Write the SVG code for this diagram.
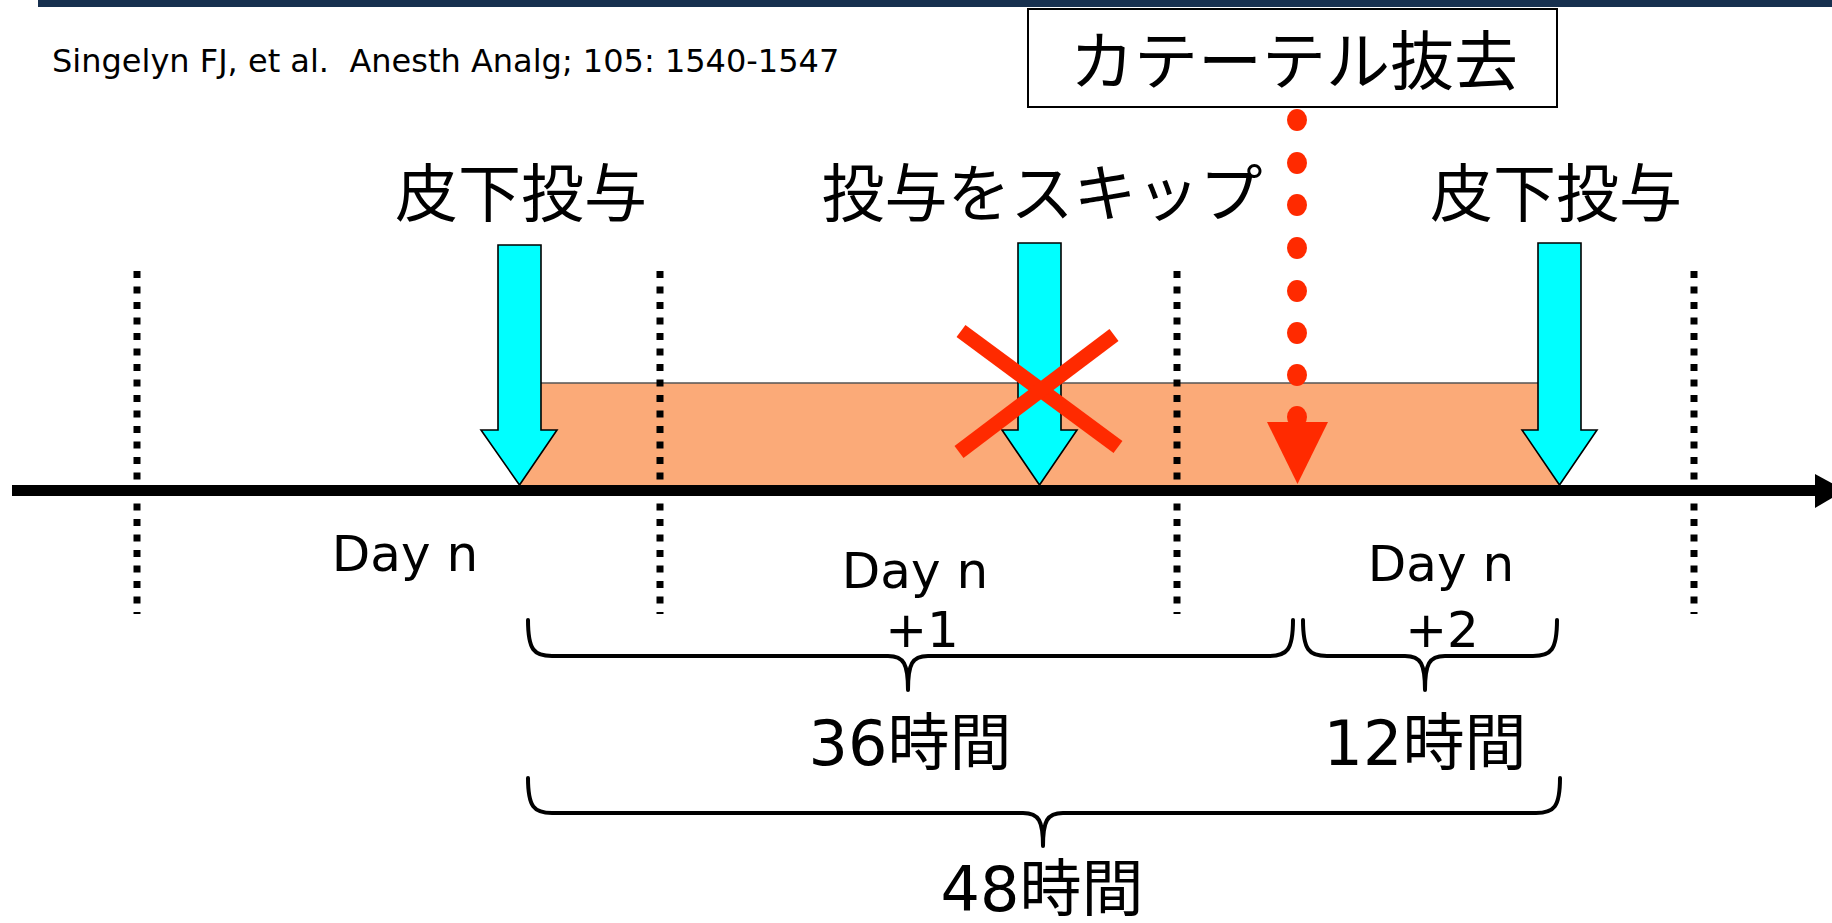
<svg xmlns="http://www.w3.org/2000/svg" width="1832" height="923" viewBox="0 0 1832 923">
  <style>
    .lat { font-family: "DejaVu Sans", "Noto Sans CJK JP", sans-serif; fill: #000; }
    .jp { font-family: "Noto Sans CJK JP", "DejaVu Sans", sans-serif; fill: #000; }
    .dose { fill: #00FFFF; stroke: #000; stroke-width: 1.6; stroke-linejoin: miter; }
    .day { stroke: #000; stroke-width: 7; stroke-dasharray: 7 8.5; }
    .brace { fill: none; stroke: #000; stroke-width: 4; stroke-linecap: round; }
    .cross { stroke: #FF2A00; stroke-width: 15; }
    .rdot { fill: #FF2A00; }
  </style>
  <rect width="1832" height="923" fill="#FFFFFF"/>

  <g id="header">
    <rect x="38" y="0" width="1794" height="7" fill="#17304F"/>
    <text class="lat" x="52" y="72" font-size="32" xml:space="preserve">Singelyn FJ, et al.  Anesth Analg; 105: 1540-1547</text>
  </g>

  <g id="effect-period">
    <rect x="519" y="383" width="1040" height="102" fill="#FBAA78"/>
    <line x1="519" y1="383" x2="1559" y2="383" stroke="#555" stroke-width="1.6"/>
  </g>

  <g id="day-dividers">
    <line class="day" x1="137" y1="271" x2="137" y2="614"/>
    <line class="day" x1="660" y1="271" x2="660" y2="614"/>
    <line class="day" x1="1177" y1="271" x2="1177" y2="614"/>
    <line class="day" x1="1694" y1="271" x2="1694" y2="614"/>
  </g>

  <g id="timeline">
    <line x1="12" y1="490.5" x2="1818" y2="490.5" stroke="#000" stroke-width="11"/>
    <polygon points="1815,474 1845,490.5 1815,508" fill="#000"/>
  </g>

  <g id="connectors">
    <g id="catheter-removal-line">
      <ellipse class="rdot" cx="1297" cy="120" rx="10" ry="11"/>
      <ellipse class="rdot" cx="1297" cy="163" rx="10" ry="11"/>
      <ellipse class="rdot" cx="1297" cy="205" rx="10" ry="11"/>
      <ellipse class="rdot" cx="1297" cy="248" rx="10" ry="11"/>
      <ellipse class="rdot" cx="1297" cy="291" rx="10" ry="11"/>
      <ellipse class="rdot" cx="1297" cy="333" rx="10" ry="11"/>
      <ellipse class="rdot" cx="1297" cy="375" rx="10" ry="11"/>
      <ellipse class="rdot" cx="1297" cy="417" rx="10" ry="11"/>
      <polygon points="1267,422 1328,422 1297.5,484" fill="#FF2A00"/>
    </g>
  </g>

  <g id="dose1">
    <polygon class="dose" points="498,245 541,245 541,430 557,430 519.5,485 481,430 498,430"/>
    <text class="jp" x="521" y="216" font-size="63" text-anchor="middle">皮下投与</text>
  </g>

  <g id="dose2-skipped">
    <polygon class="dose" points="1018,243 1061,243 1061,430 1077,430 1039.5,485 1002,430 1018,430"/>
    <line class="cross" x1="961" y1="331" x2="1118" y2="447"/>
    <line class="cross" x1="1114" y1="335" x2="959" y2="452"/>
    <text class="jp" x="1042" y="216" font-size="63" text-anchor="middle">投与をスキップ</text>
  </g>

  <g id="dose3">
    <polygon class="dose" points="1538,243 1581,243 1581,430 1597,430 1559.5,485 1522,430 1538,430"/>
    <text class="jp" x="1556" y="216" font-size="63" text-anchor="middle">皮下投与</text>
  </g>

  <g id="catheter-removal">
    <rect x="1028" y="9" width="529" height="98" fill="#FFFFFF" stroke="#000" stroke-width="2"/>
    <text class="jp" x="1294" y="84" font-size="64" text-anchor="middle">カテーテル抜去</text>
  </g>

  <g id="day-labels">
    <text class="lat" x="405" y="571" font-size="50" text-anchor="middle">Day n</text>
    <text class="lat" x="915" y="588" font-size="50" text-anchor="middle">Day n</text>
    <text class="lat" x="922" y="647" font-size="50" text-anchor="middle">+1</text>
    <text class="lat" x="1441" y="581" font-size="50" text-anchor="middle">Day n</text>
    <text class="lat" x="1442" y="647" font-size="50" text-anchor="middle">+2</text>
  </g>

  <g id="brace-36h">
    <path class="brace" d="M528,620 C528,650 534,656 552,656 L888,656 C904,656 908,664 908,690 M1293,620 C1293,650 1287,656 1269,656 L928,656 C912,656 908,664 908,690"/>
    <text class="lat" x="910" y="765" font-size="62" text-anchor="middle">36時間</text>
  </g>

  <g id="brace-12h">
    <path class="brace" d="M1303,620 C1303,650 1309,656 1327,656 L1405,656 C1421,656 1425,664 1425,690 M1557,620 C1557,650 1551,656 1533,656 L1445,656 C1429,656 1425,664 1425,690"/>
    <text class="lat" x="1425" y="765" font-size="62" text-anchor="middle">12時間</text>
  </g>

  <g id="brace-48h">
    <path class="brace" d="M528,778 C528,807 534,813 552,813 L1023,813 C1039,813 1043,821 1043,846 M1560,778 C1560,807 1554,813 1536,813 L1063,813 C1047,813 1043,821 1043,846"/>
    <text class="lat" x="1042" y="911" font-size="62" text-anchor="middle">48時間</text>
  </g>
</svg>
